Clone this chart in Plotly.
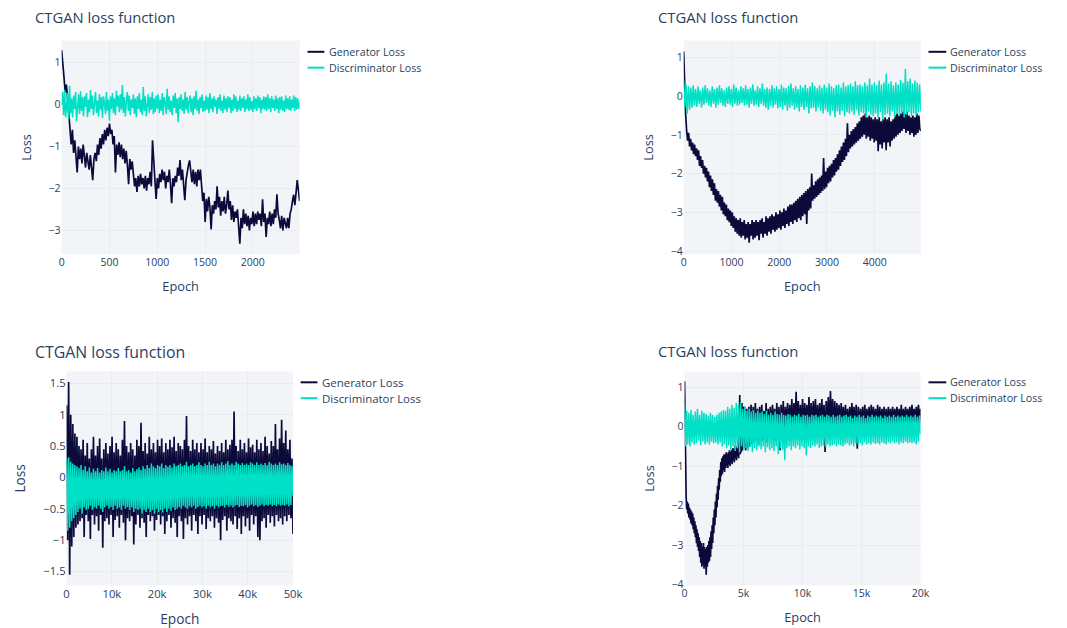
import numpy as np
import plotly.graph_objects as go

W, H = 1067, 628

# ---------------- data ----------------
# Panel 1 (top-left): ~2.5k epochs
p1_last_epoch = 2490
p1_gen = [1.30, 1.05, 0.65, 0.30, 0.48, 0.15, -0.30, -0.70, -0.95, -0.60,
          -1.15, -0.85, -1.25, -1.62, -1.00, -1.30, -1.05, -1.40, -0.95, -1.25,
          -1.50, -1.15, -1.35, -1.55, -1.20, -1.45, -1.80, -1.30, -1.15, -1.35,
          -0.95, -1.20, -0.80, -1.05, -0.70, -0.95, -0.60, -0.85, -0.55, -0.75,
          -0.45, -0.70, -0.60, -0.95, -0.75, -1.62, -0.95, -1.20, -0.90, -1.25,
          -0.95, -1.30, -1.05, -1.40, -1.10, -1.45, -1.90, -1.30, -1.55, -1.35,
          -1.60, -1.95, -1.75, -2.08, -1.70, -1.95, -1.65, -1.90, -1.75, -2.00,
          -1.70, -2.05, -1.75, -1.90, -1.60, -1.95, -0.85, -1.50, -1.80, -2.25,
          -1.75, -2.00, -1.65, -1.85, -1.55, -1.80, -1.60, -2.00, -1.70, -1.85,
          -1.55, -1.90, -2.35, -1.75, -1.95, -1.70, -1.85, -1.50, -1.70, -1.32,
          -1.80, -1.55, -1.95, -2.28, -1.80, -1.60, -1.45, -1.33, -1.70, -1.85,
          -1.55, -1.90, -1.60, -1.95, -1.55, -1.80, -1.55, -1.95, -2.30, -2.10,
          -2.80, -2.25, -2.55, -2.20, -2.45, -2.98, -2.40, -2.60, -2.30, -2.50,
          -1.95, -2.45, -2.20, -2.65, -2.30, -2.55, -2.20, -2.60, -2.40, -2.05,
          -2.50, -2.30, -2.75, -2.40, -2.80, -2.55, -2.70, -2.50, -2.90, -3.32,
          -2.70, -2.95, -2.50, -2.85, -2.60, -2.90, -2.65, -3.00, -2.70, -2.85,
          -2.55, -2.90, -2.60, -2.85, -2.55, -2.75, -2.60, -2.90, -2.26, -2.80,
          -2.60, -3.16, -2.70, -2.85, -2.55, -2.90, -2.60, -2.85, -2.50, -2.70,
          -2.14, -2.60, -2.75, -2.95, -2.65, -3.00, -2.70, -2.80, -2.95, -2.70,
          -2.95, -2.60, -2.50, -2.30, -2.15, -2.40, -2.10, -1.80, -2.05, -2.30]
p1_disc = [0.00, 0.30, -0.25, 0.35, -0.30, 0.10, 0.28, -0.35, 0.45, -0.20, 0.15, -0.30,
           0.22, -0.10, 0.30, -0.40, 0.05, 0.25, -0.22, 0.32, -0.15, 0.18, -0.28, 0.20,
           -0.05, 0.28, -0.30, 0.12, -0.18, 0.35, -0.10, 0.22, -0.25, 0.15, 0.30, -0.20,
           0.10, -0.28, 0.25, -0.12, 0.18, -0.32, 0.20, 0.05, -0.22, 0.30, -0.15, 0.12,
           -0.38, 0.20, -0.10, 0.28, -0.20, 0.15, -0.25, 0.33, -0.05, 0.22, -0.18, 0.25,
           -0.12, 0.47, -0.20, 0.18, -0.28, 0.10, 0.30, -0.15, 0.22, -0.25, 0.12, -0.08,
           0.25, -0.22, 0.15, -0.30, 0.20, -0.10, 0.28, -0.18, 0.12, -0.25, 0.42, -0.15,
           0.20, -0.28, 0.10, 0.25, -0.20, 0.18, -0.12, 0.30, -0.22, 0.15, -0.18, 0.22,
           -0.10, 0.25, -0.20, 0.12, -0.15, 0.28, -0.25, 0.18, 0.05, -0.22, 0.38, -0.12,
           0.20, -0.18, 0.10, -0.25, 0.22, -0.08, 0.28, -0.20, 0.15, -0.42, 0.18, -0.10,
           0.25, -0.15, 0.12, -0.22, 0.30, -0.12, 0.18, -0.20, 0.08, 0.22, -0.18, 0.15,
           -0.25, 0.20, -0.10, 0.33, -0.15, 0.12, -0.22, 0.18, -0.08, 0.25, -0.18, 0.10,
           -0.15, 0.22, -0.12, 0.18, -0.20, 0.28, -0.10, 0.15, -0.18, 0.20, -0.05, 0.12,
           -0.22, 0.18, -0.10, 0.25, -0.15, 0.10, -0.20, 0.22, -0.12, 0.15, -0.18, 0.20,
           -0.08, 0.18, -0.20, 0.12, -0.15, 0.25, -0.10, 0.20, -0.18, 0.10, -0.12, 0.22,
           -0.15, 0.15, -0.08, 0.20, -0.18, 0.12, -0.10, 0.25, -0.15, 0.18, -0.12, 0.08,
           -0.18, 0.20, -0.10, 0.15, -0.15, 0.22, -0.08, 0.18, -0.20, 0.12, -0.10, 0.20,
           -0.12, 0.18, -0.15, 0.25, -0.10, 0.15, -0.18, 0.20, -0.08, 0.12, -0.15, 0.22,
           -0.10, 0.15, -0.20, 0.18, -0.12, 0.20, -0.15, 0.10, -0.18, 0.22, -0.10, 0.15,
           -0.12, 0.20, -0.15, 0.12, -0.08, 0.22, -0.15, 0.18, -0.12, 0.15, -0.10, 0.05]

# Panel 2 (top-right): ~5k epochs
p2_last_epoch = 4967
p2_gen = [1.15, 0.20, -0.45, -0.90, -1.15, -0.95, -1.30, -1.10, -1.40, -1.20, -1.50, -1.25,
          -1.55, -1.35, -1.65, -1.40, -1.80, -1.55, -1.85, -1.65, -2.00, -1.80, -2.10, -1.85,
          -2.20, -1.95, -2.35, -2.05, -2.45, -2.15, -2.55, -2.25, -2.70, -2.40, -2.75, -2.45,
          -2.85, -2.55, -2.95, -2.60, -3.05, -2.75, -3.10, -2.80, -3.20, -2.90, -3.25, -2.95,
          -3.35, -3.00, -3.40, -3.10, -3.50, -3.15, -3.55, -3.20, -3.60, -3.15, -3.65, -3.25,
          -3.60, -3.20, -3.70, -3.30, -3.65, -3.25, -3.78, -3.30, -3.60, -3.20, -3.70, -3.25,
          -3.65, -3.20, -3.60, -3.25, -3.72, -3.20, -3.55, -3.15, -3.65, -3.25, -3.55, -3.10,
          -3.60, -3.15, -3.50, -3.10, -3.55, -3.05, -3.45, -3.10, -3.50, -3.00, -3.45, -3.05,
          -3.40, -2.95, -3.45, -3.00, -3.35, -2.90, -3.40, -2.95, -3.30, -2.85, -3.35, -2.80,
          -3.25, -2.80, -3.30, -2.75, -3.20, -2.70, -3.25, -2.65, -3.15, -2.60, -3.20, -2.55,
          -3.10, -2.50, -3.05, -2.45, -3.30, -2.40, -2.95, -2.35, -2.90, -2.00, -2.70, -2.30,
          -2.65, -2.20, -2.60, -2.15, -2.55, -2.10, -2.50, -2.05, -2.45, -1.60, -2.40, -1.95,
          -2.35, -1.85, -2.25, -1.80, -2.20, -1.75, -2.10, -1.65, -2.05, -1.60, -1.95, -1.50,
          -1.90, -1.40, -1.80, -1.30, -1.70, -1.20, -1.65, -1.10, -1.55, -0.70, -1.45, -1.00,
          -1.35, -0.90, -1.30, -0.85, -1.25, -0.80, -1.20, -0.70, -1.15, -0.65, -1.10, -0.55,
          -1.05, -0.50, -1.00, -0.45, -1.10, -0.55, -1.05, -0.50, -1.15, -0.55, -1.10, -0.60,
          -1.20, -0.55, -1.15, -0.60, -1.42, -0.55, -1.25, -0.65, -1.35, -0.60, -1.20, -0.55,
          -1.40, -0.60, -1.20, -0.55, -1.30, -0.65, -1.15, -0.60, -1.10, -0.50, -1.05, -0.45,
          -1.00, -0.50, -0.95, -0.45, -0.90, -0.40, -0.85, -0.45, -0.95, -0.40, -0.90, -0.50,
          -1.00, -0.55, -0.95, -0.50, -1.05, -0.55, -1.00, -0.45, -0.95, -0.50, -0.85, -0.90]
p2_disc = [0.40, -0.30, 0.30, -0.45, 0.25, -0.35, 0.22, -0.30, 0.28, -0.25,
           0.18, -0.28, 0.25, -0.20, 0.15, -0.30, 0.22, -0.22, 0.28, -0.18,
           0.20, -0.25, 0.15, -0.28, 0.25, -0.20, 0.18, -0.30, 0.22, -0.22,
           0.28, -0.18, 0.20, -0.25, 0.15, -0.28, 0.22, -0.20, 0.25, -0.22,
           0.18, -0.28, 0.30, -0.20, 0.22, -0.25, 0.15, -0.22, 0.25, -0.18,
           0.20, -0.25, 0.28, -0.22, 0.18, -0.30, 0.22, -0.20, 0.30, -0.25,
           0.15, -0.22, 0.25, -0.28, 0.20, -0.20, 0.32, -0.25, 0.18, -0.30,
           0.22, -0.35, 0.18, -0.25, 0.28, -0.30, 0.20, -0.22, 0.25, -0.32,
           0.18, -0.28, 0.30, -0.35, 0.22, -0.25, 0.20, -0.38, 0.26, -0.30,
           0.32, -0.25, 0.20, -0.35, 0.25, -0.30, 0.18, -0.40, 0.28, -0.28,
           0.22, -0.35, 0.30, -0.28, 0.20, -0.45, 0.25, -0.32, 0.35, -0.30,
           0.25, -0.40, 0.20, -0.30, 0.28, -0.38, 0.22, -0.45, 0.30, -0.35,
           0.22, -0.42, 0.32, -0.50, 0.25, -0.38, 0.20, -0.55, 0.28, -0.40,
           0.30, -0.48, 0.22, -0.38, 0.35, -0.52, 0.25, -0.42, 0.28, -0.45,
           0.32, -0.40, 0.25, -0.48, 0.38, -0.35, 0.28, -0.50, 0.30, -0.42,
           0.25, -0.45, 0.35, -0.55, 0.28, -0.40, 0.45, -0.48, 0.30, -0.52,
           0.35, -0.45, 0.28, -0.55, 0.40, -0.42, 0.30, -0.60, 0.35, -0.48,
           0.58, -0.45, 0.32, -0.52, 0.38, -0.40, 0.28, -0.55, 0.35, -0.45,
           0.30, -0.50, 0.42, -0.45, 0.35, -0.55, 0.70, -0.48, 0.38, -0.42,
           0.45, -0.52, 0.32, -0.45, 0.40, -0.50, 0.35, -0.42, 0.30, -0.40]

# Panel 3 (bottom-left): 50k epochs
p3_last_epoch = 50000
p3_gen = [1.15, -1.00, 1.52, -1.55, 1.00, -1.10, 0.85, -0.95, 0.70, -0.80,
          0.65, -0.75, 0.50, -0.70, 0.45, -0.65, 0.60, -0.95, 0.35, -0.60,
          0.55, -0.70, 0.30, -0.98, 0.45, -0.60, 0.65, -0.75, 0.35, -0.62,
          0.50, -0.85, 0.62, -0.60, 0.30, -1.12, 0.45, -0.70, 0.55, -0.65,
          0.38, -0.75, 0.50, -0.60, 0.65, -0.95, 0.40, -0.68, 0.55, -0.62,
          0.45, -0.80, 0.35, -0.60, 0.60, -0.72, 0.90, -1.00, 0.50, -0.65,
          0.40, -0.70, 0.55, -0.62, 0.45, -1.07, 0.35, -0.75, 0.60, -0.60,
          0.50, -0.80, 0.87, -0.65, 0.42, -0.72, 0.55, -0.95, 0.38, -0.60,
          0.65, -0.70, 0.45, -0.62, 0.55, -0.85, 0.40, -0.68, 0.60, -0.60,
          0.50, -0.75, 0.62, -0.62, 0.40, -0.90, 0.55, -0.70, 0.45, -0.60,
          0.60, -0.80, 0.48, -0.65, 0.65, -0.72, 0.42, -0.95, 0.55, -0.62,
          0.50, -0.70, 0.45, -0.98, 0.60, -0.65, 0.98, -0.75, 0.50, -0.62,
          0.42, -0.85, 0.60, -0.60, 0.45, -0.70, 0.55, -0.90, 0.40, -0.62,
          0.55, -0.75, 0.45, -0.60, 0.62, -0.82, 0.40, -0.65, 0.50, -0.70,
          0.45, -0.62, 0.58, -0.80, 0.38, -0.65, 0.50, -0.72, 0.42, -1.00,
          0.55, -0.68, 0.40, -0.62, 0.60, -0.85, 0.45, -0.65, 0.52, -0.70,
          0.60, -0.75, 1.05, -0.62, 0.50, -0.82, 0.42, -0.65, 0.60, -0.90,
          0.45, -0.62, 0.55, -0.78, 0.40, -0.65, 0.62, -0.85, 0.48, -0.60,
          0.52, -0.75, 0.40, -0.62, 0.60, -0.95, 0.45, -1.00, 0.55, -0.70,
          0.42, -0.65, 0.65, -0.80, 0.50, -0.60, 0.38, -0.72, 0.58, -0.62,
          0.50, -0.78, 0.85, -0.60, 0.45, -0.70, 0.62, -0.65, 0.92, -0.75,
          0.55, -0.62, 0.75, -0.70, 0.45, -0.60, 0.60, -0.65, 0.30, -0.90]
p3_disc = [0.30, -0.85, 0.32, -0.80, 0.25, -0.70, 0.22, -0.65, 0.20, -0.60,
           0.18, -0.55, 0.15, -0.50, 0.20, -0.58, 0.12, -0.48, 0.18, -0.52,
           0.10, -0.50, 0.16, -0.45, 0.08, -0.52, 0.14, -0.48, 0.10, -0.50,
           0.15, -0.45, 0.08, -0.50, 0.12, -0.55, 0.10, -0.48, 0.16, -0.45,
           0.10, -0.50, 0.14, -0.47, 0.08, -0.52, 0.12, -0.45, 0.10, -0.50,
           0.15, -0.48, 0.10, -0.52, 0.12, -0.45, 0.18, -0.50, 0.10, -0.47,
           0.12, -0.52, 0.08, -0.48, 0.15, -0.55, 0.10, -0.50, 0.13, -0.52,
           0.16, -0.50, 0.12, -0.58, 0.18, -0.52, 0.14, -0.55, 0.20, -0.50,
           0.15, -0.55, 0.22, -0.52, 0.18, -0.58, 0.15, -0.50, 0.20, -0.55,
           0.18, -0.52, 0.22, -0.56, 0.15, -0.50, 0.20, -0.55, 0.17, -0.50,
           0.20, -0.53, 0.16, -0.48, 0.22, -0.52, 0.18, -0.50, 0.20, -0.47,
           0.22, -0.50, 0.18, -0.45, 0.20, -0.48, 0.25, -0.50, 0.18, -0.46,
           0.20, -0.48, 0.22, -0.45, 0.18, -0.50, 0.20, -0.47, 0.24, -0.45,
           0.20, -0.48, 0.18, -0.46, 0.22, -0.50, 0.20, -0.45, 0.25, -0.48,
           0.20, -0.46, 0.22, -0.50, 0.18, -0.45, 0.22, -0.48, 0.20, -0.46,
           0.24, -0.45, 0.20, -0.48, 0.22, -0.44, 0.26, -0.47, 0.20, -0.45,
           0.22, -0.48, 0.20, -0.45, 0.25, -0.44, 0.22, -0.47, 0.20, -0.45,
           0.23, -0.46, 0.20, -0.44, 0.22, -0.48, 0.20, -0.45, 0.24, -0.43,
           0.22, -0.46, 0.20, -0.44, 0.24, -0.47, 0.20, -0.45, 0.22, -0.43,
           0.20, -0.46, 0.23, -0.44, 0.20, -0.45, 0.25, -0.43, 0.22, -0.46,
           0.20, -0.44, 0.22, -0.46, 0.20, -0.43, 0.24, -0.45, 0.21, -0.44,
           0.22, -0.45, 0.20, -0.43, 0.23, -0.46, 0.20, -0.44, 0.18, -0.30]

# Panel 4 (bottom-right): 20k epochs; generator given as an early (dense) and late part
p4_split_epoch = 5000
p4_last_epoch = 20000
p4_gen_early = [1.15, -0.50, -1.60, -1.80, -2.10, -1.90, -2.20, -1.95, -2.30, -2.05,
                -2.35, -2.10, -2.45, -2.15, -2.50, -2.20, -2.60, -2.30, -2.70, -2.40,
                -2.80, -2.50, -2.95, -2.60, -3.05, -2.70, -3.15, -2.80, -3.30, -2.90,
                -3.45, -2.95, -3.55, -3.05, -3.50, -2.95, -3.60, -3.05, -3.55, -3.10,
                -3.75, -3.05, -3.55, -3.00, -3.45, -2.90, -3.40, -2.80, -3.30, -2.65,
                -3.10, -2.50, -2.95, -2.30, -2.70, -2.10, -2.50, -1.90, -2.30, -1.70,
                -2.05, -1.50, -1.85, -1.30, -1.60, -1.10, -1.40, -0.90, -1.25, -0.80,
                -1.20, -0.75, -1.10, -0.70, -1.15, -0.70, -1.05, -0.65, -1.00, -0.70,
                -1.05, -0.65, -0.95, -0.60, -1.00, -0.65, -0.90, -0.60, -0.95, -0.55,
                -0.85, -0.55, -0.90, -0.50, -0.80, -0.55, -0.85, -0.50, -0.75, -0.55,
                -0.80, 0.20, 0.80, -0.70, 0.55, -0.65, 0.60, -0.60, 0.50, -0.55]
p4_gen_late = [0.50, -0.60, 0.45, -0.55, 0.50,
               -0.50, 0.55, -0.45, 0.50, -0.40, 0.60, -0.35, 0.45, -0.45, 0.50,
               -0.30, 0.55, -0.35, 0.40, -0.30, 0.60, -0.40, 0.45, -0.25, 0.50,
               -0.30, 0.55, -0.20, 0.45, -0.35, 0.60, -0.25, 0.50, -0.60, 0.55,
               -0.20, 0.65, -0.30, 0.50, -0.15, 0.60, -0.25, 0.55, -0.20, 0.70,
               -0.30, 0.60, -0.15, 0.88, -0.20, 0.65, -0.25, 0.55, -0.15, 0.70,
               -0.20, 0.60, -0.10, 0.55, -0.25, 0.75, -0.15, 0.60, -0.20, 0.65,
               -0.10, 0.70, -0.20, 0.55, -0.15, 0.60, -0.25, 0.70, -0.10, 0.55,
               -0.64, 0.65, -0.15, 0.75, -0.20, 0.90, -0.10, 0.70, -0.20, 0.65,
               -0.15, 0.60, -0.10, 0.55, -0.20, 0.60, -0.10, 0.50, -0.15, 0.55,
               -0.10, 0.45, -0.20, 0.50, -0.10, 0.60, -0.15, 0.50, -0.10, 0.55,
               -0.56, 0.50, -0.10, 0.45, -0.15, 0.50, -0.10, 0.55, -0.05, 0.45,
               -0.10, 0.50, -0.15, 0.55, -0.05, 0.50, -0.10, 0.45, -0.10, 0.55,
               -0.05, 0.50, -0.10, 0.45, 0.00, 0.50, -0.10, 0.45, -0.05, 0.50,
               -0.10, 0.45, 0.00, 0.50, -0.05, 0.45, 0.00, 0.50, -0.05, 0.45,
               0.00, 0.55, -0.05, 0.45, 0.05, 0.50, 0.00, 0.45, 0.05, 0.50,
               0.00, 0.55, 0.05, 0.45, 0.10, 0.50, 0.05, 0.55, 0.10, 0.45]
p4_disc = [0.55, -0.50, 0.40, -0.45, 0.35, -0.50, 0.42, -0.40, 0.30, -0.45,
           0.38, -0.42, 0.45, -0.35, 0.30, -0.48, 0.40, -0.38, 0.35, -0.45,
           0.32, -0.40, 0.28, -0.45, 0.35, -0.38, 0.30, -0.42, 0.25, -0.40,
           0.30, -0.45, 0.35, -0.40, 0.38, -0.50, 0.42, -0.45, 0.40, -0.55,
           0.50, -0.48, 0.45, -0.60, 0.55, -0.50, 0.48, -0.62, 0.60, -0.55,
           0.55, -0.65, 0.62, -0.50, 0.45, -0.60, 0.50, -0.55, 0.40, -0.62,
           0.45, -0.50, 0.38, -0.65, 0.42, -0.55, 0.35, -0.60, 0.40, -0.50,
           0.35, -0.58, 0.38, -0.50, 0.32, -0.65, 0.40, -0.52, 0.30, -0.60,
           0.35, -0.55, 0.30, -0.62, 0.38, -0.50, 0.32, -0.70, 0.30, -0.55,
           0.35, -0.60, 0.30, -0.85, 0.28, -0.55, 0.32, -0.50, 0.30, -0.60,
           0.25, -0.50, 0.30, -0.55, 0.28, -0.48, 0.32, -0.58, 0.25, -0.50,
           0.30, -0.55, 0.28, -0.73, 0.30, -0.50, 0.25, -0.55, 0.30, -0.48,
           0.28, -0.50, 0.30, -0.45, 0.25, -0.55, 0.28, -0.50, 0.30, -0.48,
           0.25, -0.52, 0.30, -0.45, 0.28, -0.50, 0.25, -0.48, 0.30, -0.45,
           0.25, -0.50, 0.28, -0.45, 0.30, -0.48, 0.25, -0.50, 0.28, -0.45,
           0.30, -0.42, 0.25, -0.48, 0.28, -0.45, 0.22, -0.50, 0.28, -0.42,
           0.25, -0.45, 0.30, -0.42, 0.25, -0.48, 0.28, -0.40, 0.22, -0.45,
           0.28, -0.42, 0.25, -0.45, 0.30, -0.40, 0.25, -0.44, 0.28, -0.42,
           0.25, -0.45, 0.28, -0.40, 0.22, -0.42, 0.28, -0.45, 0.25, -0.40,
           0.28, -0.42, 0.25, -0.38, 0.30, -0.42, 0.25, -0.40, 0.28, -0.45,
           0.25, -0.40, 0.28, -0.42, 0.25, -0.38, 0.30, -0.42, 0.25, -0.40,
           0.28, -0.42, 0.25, -0.40, 0.30, -0.45, 0.25, -0.38, 0.28, -0.20]

title_text = "CTGAN loss function"
series_names = ["Generator Loss", "Discriminator Loss"]
x_title = "Epoch"
y_title = "Loss"

# ---------------- styling / layout ----------------
GEN_COLOR = "#0b0a3a"
DISC_COLOR = "#00e0c6"
SERIES_COLORS = [GEN_COLOR, DISC_COLOR]
TEXT = "#2a3f5f"
BG = "#f3f4f8"
GRID = "#e9ebf3"


def xdom(a, b):
    return [a / W, b / W]


def ydom(top, bottom):
    return [1 - bottom / H, 1 - top / H]


def epochs(start, stop, n):
    return np.linspace(start, stop, n)


p4_step = (p4_last_epoch - p4_split_epoch) / len(p4_gen_late)
p4_gen_x = np.concatenate([epochs(0, p4_split_epoch, len(p4_gen_early)),
                           epochs(p4_split_epoch + p4_step, p4_last_epoch, len(p4_gen_late))])
p4_gen = p4_gen_early + p4_gen_late

# legend geometry (pixels): line x0, line x1, text x, item1 y, item2 y
panels = [
    dict(gx=epochs(0, p1_last_epoch, len(p1_gen)), gen=p1_gen,
         dx=epochs(0, p1_last_epoch, len(p1_disc)), disc=p1_disc,
         xd=xdom(59.3, 300.0), yd=ydom(41, 256.7),
         xr=[0, p1_last_epoch], yr=[-3.57, 1.53], xdt=500, ydt=1,
         tpos=(30, 17.5), leg=(308, 325, 329.3, 52.3, 68.3), fs=1.0),
    dict(gx=epochs(0, p2_last_epoch, len(p2_gen)), gen=p2_gen,
         dx=epochs(0, p2_last_epoch, len(p2_disc)), disc=p2_disc,
         xd=xdom(688.4, 928.3), yd=ydom(41, 256.7),
         xr=[0, p2_last_epoch], yr=[-4.08, 1.43], xdt=1000, ydt=1,
         tpos=(660, 17.5), leg=(936, 954, 957.7, 52.3, 68.3), fs=1.0),
    dict(gx=epochs(0, p3_last_epoch, len(p3_gen)), gen=p3_gen,
         dx=epochs(0, p3_last_epoch, len(p3_disc)), disc=p3_disc,
         xd=xdom(64.3, 293.3), yd=ydom(375, 591),
         xr=[0, p3_last_epoch], yr=[-1.72, 1.69], xdt=10000, ydt=0.5,
         tpos=(30, 355), leg=(301, 318, 322.3, 386, 402), fs=1.07),
    dict(gx=p4_gen_x, gen=p4_gen,
         dx=epochs(0, p4_last_epoch, len(p4_disc)), disc=p4_disc,
         xd=xdom(689.3, 928.0), yd=ydom(375.3, 591),
         xr=[0, p4_last_epoch], yr=[-4.02, 1.39], xdt=5000, ydt=1,
         tpos=(660, 354.5), leg=(936, 954, 957.7, 386, 402), fs=1.0),
]

fig = go.Figure()
layout = dict(
    width=W, height=H,
    margin=dict(l=0, r=0, t=0, b=0),
    paper_bgcolor="white",
    plot_bgcolor=BG,
    showlegend=False,
    font=dict(family="Open Sans, sans-serif", color=TEXT, size=11),
    annotations=[],
    shapes=[],
)

for i, p in enumerate(panels, start=1):
    sfx = "" if i == 1 else str(i)
    xa, ya = f"x{sfx}", f"y{sfx}"
    s = p["fs"]
    fig.add_trace(go.Scatter(x=p["gx"], y=p["gen"], mode="lines", name=series_names[0],
                             line=dict(color=GEN_COLOR, width=1.7),
                             xaxis=xa, yaxis=ya))
    fig.add_trace(go.Scatter(x=p["dx"], y=p["disc"], mode="lines", name=series_names[1],
                             line=dict(color=DISC_COLOR, width=1.5),
                             xaxis=xa, yaxis=ya))
    layout[f"xaxis{sfx}"] = dict(
        domain=p["xd"], anchor=ya, range=p["xr"], dtick=p["xdt"], tick0=0,
        showgrid=True, gridcolor=GRID, zeroline=False, showline=False,
        tickfont=dict(size=10.5 * s, color=TEXT),
        title=dict(text=x_title, font=dict(size=12.8 * s, color=TEXT), standoff=14),
    )
    layout[f"yaxis{sfx}"] = dict(
        domain=p["yd"], anchor=xa, range=p["yr"], dtick=p["ydt"], tick0=0,
        showgrid=True, gridcolor=GRID, zeroline=False, showline=False,
        tickfont=dict(size=10.5 * s, color=TEXT),
        title=dict(text=y_title, font=dict(size=12.8 * s, color=TEXT), standoff=14),
    )
    # legend drawn as line samples + text labels
    lx0, lx1, tx, y1, y2 = p["leg"]
    for name, color, yy in zip(series_names, SERIES_COLORS, (y1, y2)):
        layout["shapes"].append(dict(
            type="line", xref="paper", yref="paper",
            x0=lx0 / W, x1=lx1 / W, y0=1 - yy / H, y1=1 - yy / H,
            line=dict(color=color, width=2),
        ))
        layout["annotations"].append(dict(
            text=name, x=(tx - 2) / W, y=1 - yy / H, xref="paper", yref="paper",
            xanchor="left", yanchor="middle", showarrow=False,
            font=dict(size=10.7 * s, color=TEXT),
        ))
    layout["annotations"].append(dict(
        text=title_text, x=p["tpos"][0] / W, y=1 - p["tpos"][1] / H,
        xref="paper", yref="paper", xanchor="left", yanchor="middle",
        showarrow=False, font=dict(size=14.8 * s, color=TEXT),
    ))

fig.update_layout(**layout)
fig.write_html("out.html")
